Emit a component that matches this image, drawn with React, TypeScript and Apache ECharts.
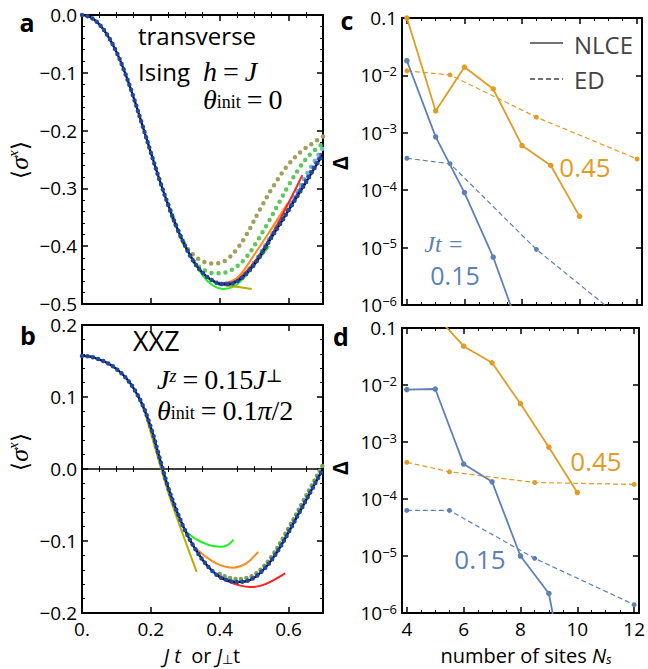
import React, { useEffect, useRef } from 'react';
import * as echarts from 'echarts';

// ---------- Panel a: transverse Ising ----------
const aMainX = [0, 0.025, 0.05, 0.075, 0.1, 0.125, 0.15, 0.175, 0.2, 0.225, 0.25, 0.275, 0.3, 0.325, 0.35, 0.375, 0.4, 0.425, 0.45, 0.475, 0.5, 0.525, 0.55, 0.575, 0.6, 0.625, 0.65, 0.675, 0.7];
const aMainY = [0, -0.004, -0.016, -0.036, -0.064, -0.1, -0.143, -0.19, -0.238, -0.285, -0.328, -0.367, -0.4, -0.427, -0.446, -0.458, -0.465, -0.466, -0.461, -0.449, -0.432, -0.41, -0.385, -0.362, -0.338, -0.314, -0.29, -0.265, -0.241];
const aOliveDotX = [0.25, 0.275, 0.3, 0.325, 0.35, 0.375, 0.4, 0.425, 0.45, 0.478, 0.517, 0.556, 0.595, 0.633, 0.672, 0.7];
const aOliveDotY = [-0.328, -0.367, -0.398, -0.416, -0.426, -0.43, -0.429, -0.421, -0.405, -0.38, -0.336, -0.296, -0.262, -0.238, -0.221, -0.21];
const aGreenDotX = [0.25, 0.275, 0.3, 0.33, 0.36, 0.39, 0.42, 0.45, 0.48, 0.51, 0.54, 0.57, 0.6, 0.63, 0.66, 0.7];
const aGreenDotY = [-0.328, -0.367, -0.4, -0.43, -0.443, -0.447, -0.445, -0.435, -0.417, -0.39, -0.36, -0.327, -0.295, -0.266, -0.243, -0.222];
const aCyanDotX = [0.4, 0.45, 0.5, 0.556, 0.604, 0.653, 0.7];
const aCyanDotY = [-0.465, -0.459, -0.428, -0.375, -0.327, -0.275, -0.229];
const aPurpleDotX = [0.4, 0.45, 0.5, 0.55, 0.6, 0.65, 0.7];
const aPurpleDotY = [-0.465, -0.46, -0.431, -0.384, -0.336, -0.285, -0.235];
const aOrangeX = [0.3, 0.35, 0.4, 0.45, 0.5, 0.55, 0.598];
const aOrangeY = [-0.4, -0.446, -0.464, -0.455, -0.415, -0.37, -0.325];
const aGreenX = [0.3, 0.35, 0.38, 0.41, 0.44, 0.47, 0.5, 0.544];
const aGreenY = [-0.4, -0.45, -0.468, -0.474, -0.47, -0.455, -0.433, -0.4];
const aOliveX = [0.35, 0.37, 0.4, 0.43, 0.46, 0.493];
const aOliveY = [-0.446, -0.457, -0.465, -0.469, -0.471, -0.474];
const aRedX = [0.45, 0.5, 0.55, 0.6, 0.64];
const aRedY = [-0.46, -0.428, -0.381, -0.325, -0.277];

// ---------- Panel b: XXZ ----------
const bMainX = [0, 0.025, 0.05, 0.075, 0.1, 0.125, 0.15, 0.175, 0.2, 0.225, 0.25, 0.275, 0.3, 0.325, 0.35, 0.375, 0.4, 0.425, 0.45, 0.475, 0.5, 0.525, 0.55, 0.575, 0.6, 0.625, 0.65, 0.675, 0.7];
const bMainY = [0.157, 0.156, 0.152, 0.147, 0.139, 0.128, 0.112, 0.09, 0.058, 0.016, -0.025, -0.058, -0.086, -0.108, -0.126, -0.14, -0.15, -0.155, -0.157, -0.156, -0.151, -0.141, -0.127, -0.109, -0.088, -0.066, -0.044, -0.022, 0.0];
const bYellowX = [0.16, 0.18, 0.2, 0.25, 0.3, 0.333];
const bYellowY = [0.103, 0.082, 0.05, -0.032, -0.1, -0.143];
const bGreenX = [0.3, 0.33, 0.36, 0.38, 0.406, 0.425, 0.44];
const bGreenY = [-0.086, -0.097, -0.104, -0.107, -0.108, -0.105, -0.098];
const bOrangeX = [0.33, 0.36, 0.39, 0.42, 0.44, 0.47, 0.49, 0.512];
const bOrangeY = [-0.11, -0.122, -0.131, -0.136, -0.137, -0.133, -0.126, -0.115];
const bRedX = [0.4, 0.43, 0.46, 0.488, 0.52, 0.55, 0.59];
const bRedY = [-0.15, -0.157, -0.162, -0.164, -0.162, -0.156, -0.145];
const bOliveDotX = [0.4, 0.45, 0.5, 0.55, 0.6, 0.65, 0.7];
const bOliveDotY = [-0.146, -0.153, -0.147, -0.122, -0.082, -0.038, 0.006];

// ---------- Panels c, d: error vs number of sites ----------
const nlceX = [4, 5, 6, 7, 8, 9, 10];
const edX = [4, 5.5, 8.5, 12];
const cNlce045 = [0.1, 2.4e-3, 1.4e-2, 5.8e-3, 6.0e-4, 2.7e-4, 3.5e-5];
const cNlce015 = [1.8e-2, 8.5e-4, 9.1e-5, 6.8e-6, 2.8e-7];
const cEd045 = [1.2e-2, 1.02e-2, 1.87e-3, 3.5e-4];
const cEd015 = [3.6e-4, 2.9e-4, 9.3e-6, 3.5e-7];
const dNlce045X = [5, 6, 7, 8, 9, 10];
const dNlce045 = [0.17, 4.8e-2, 2.45e-2, 4.7e-3, 8.1e-4, 1.3e-4];
const dNlce015 = [8.3e-3, 8.5e-3, 4.1e-4, 2.0e-4, 1.0e-5, 2.2e-6, 5e-9];
const dEd045 = [4.4e-4, 3.0e-4, 1.95e-4, 1.8e-4];
const dEd015 = [6.3e-5, 6.3e-5, 9.1e-6, 1.4e-6];

const sitesMajorTicks = [4, 6, 8, 10, 12];
const sitesMinorTicks = [4.5, 5, 5.5, 6.5, 7, 7.5, 8.5, 9, 9.5, 10.5, 11, 11.5];
const timeMinorTicks = [0.05, 0.1, 0.15, 0.25, 0.3, 0.35, 0.45, 0.5, 0.55, 0.65];

const BLUE = '#5E81B5';
const ORANGE = '#E19C24';
const FONT = '"Open Sans", "Noto Sans", sans-serif';
const SERIF = '"Liberation Serif", "DejaVu Serif", serif';

const pairs = (xs: number[], ys: number[]) => ys.map((y, i) => [xs[i], y]);

function lineSeries(xs: number[], ys: number[], xi: number, yi: number, color: string, width: number, extra: any = {}) {
  return {
    type: 'line', xAxisIndex: xi, yAxisIndex: yi, data: pairs(xs, ys),
    showSymbol: false, symbol: 'none', smooth: 0.35, clip: true,
    lineStyle: { color, width, ...(extra.lineStyle || {}) },
    silent: true, z: extra.z || 2,
  };
}
function dotSeries(xs: number[], ys: number[], xi: number, yi: number, color: string, gap = 7, width = 4.5) {
  return lineSeries(xs, ys, xi, yi, color, width, { lineStyle: { type: [0, gap], cap: 'round' } });
}
function logSeries(xs: number[], ys: number[], xi: number, yi: number, color: string, dashed: boolean) {
  return {
    type: 'line', xAxisIndex: xi, yAxisIndex: yi, data: pairs(xs, ys), clip: true,
    symbol: 'circle', symbolSize: dashed ? 5 : 5.5, showSymbol: true,
    itemStyle: { color },
    lineStyle: { color, width: dashed ? 1.2 : 1.8, type: dashed ? [5, 3] : 'solid' },
    silent: true,
  };
}

const frameLine = { show: true, onZero: false, lineStyle: { color: '#000', width: 2 } };
const labelStyle = { color: '#000', fontFamily: FONT, fontSize: 19 };

function linX(grid: number, pos: 'top' | 'bottom', labels: boolean) {
  return {
    type: 'value', gridIndex: grid, position: pos, min: 0, max: 0.7, interval: 0.2,
    axisLine: frameLine, splitLine: { show: false },
    axisTick: { show: true, inside: true, length: 6, lineStyle: { color: '#000', width: 1.5 } },
    minorTick: { show: false },
    axisLabel: {
      show: labels, margin: 6, showMaxLabel: false, ...labelStyle,
      formatter: (v: number) => (v === 0 ? '0.' : v > 0.65 ? '' : v.toFixed(1)),
    },
  };
}
function minorX(grid: number, pos: 'top' | 'bottom') {
  return {
    type: 'value', gridIndex: grid, position: pos, min: 0, max: 0.7,
    axisLine: { show: false }, splitLine: { show: false },
    axisTick: { show: true, inside: true, length: 3, customValues: timeMinorTicks, lineStyle: { color: '#000', width: 1 } },
    axisLabel: { show: false },
  };
}
function linY(grid: number, pos: 'left' | 'right', labels: boolean, min: number, max: number) {
  return {
    type: 'value', gridIndex: grid, position: pos, min, max, interval: 0.1,
    axisLine: frameLine, splitLine: { show: false },
    axisTick: { show: true, inside: true, length: 6, lineStyle: { color: '#000', width: 1.5 } },
    minorTick: { show: true, splitNumber: 5, length: 3, lineStyle: { color: '#000', width: 1 } },
    axisLabel: {
      show: labels, margin: 5, ...labelStyle,
      formatter: (v: number) => (Math.abs(v) < 1e-9 ? '0.0' : (v < 0 ? '\u2212' : '') + Math.abs(v).toFixed(1)),
    },
  };
}
function sitesX(grid: number, pos: 'top' | 'bottom', labels: boolean, minor: boolean) {
  return {
    type: 'value', gridIndex: grid, position: pos, min: 3.83, max: 12.17,
    axisLine: minor ? { show: false } : frameLine, splitLine: { show: false },
    axisTick: {
      show: true, inside: true, length: minor ? 3 : 6,
      customValues: minor ? sitesMinorTicks : sitesMajorTicks,
      lineStyle: { color: '#000', width: minor ? 1 : 1.5 },
    },
    axisLabel: { show: labels && !minor, margin: 6, ...labelStyle, customValues: sitesMajorTicks },
  };
}
function logY(grid: number, pos: 'left' | 'right', labels: boolean) {
  return {
    type: 'log', logBase: 10, gridIndex: grid, position: pos, min: 1e-6, max: 0.1,
    axisLine: frameLine, splitLine: { show: false },
    axisTick: { show: true, inside: true, length: 6, lineStyle: { color: '#000', width: 1.5 } },
    minorTick: { show: false },
    axisLabel: {
      show: labels, margin: 5, ...labelStyle,
      formatter: (v: number) => {
        const e = Math.round(Math.log10(v));
        return e === -1 ? '{b|0.1}' : `{b|10}{s|\u2212${-e}}`;
      },
      rich: {
        b: { fontFamily: FONT, fontSize: 19, color: '#000' },
        s: { fontFamily: FONT, fontSize: 13, color: '#000', verticalAlign: 'top', padding: [0, 0, 9, 0] },
      },
    },
  };
}

function txt(x: number, y: number, text: string, font: string, fill = '#000', align = 'left', rich?: any, rotation = 0, lineHeight?: number) {
  return {
    type: 'text', x, y, rotation, silent: true, z: 50,
    style: { text, font, fill, align, verticalAlign: 'middle', rich, lineHeight },
  };
}

const mathRich = {
  i: { fontFamily: SERIF, fontStyle: 'italic', fontSize: 28, color: '#000', lineHeight: 20 },
  r: { fontFamily: SERIF, fontSize: 28, color: '#000', lineHeight: 20 },
  sub: { fontFamily: SERIF, fontSize: 18, color: '#000', verticalAlign: 'bottom', lineHeight: 12 },
  sup: { fontFamily: SERIF, fontStyle: 'italic', fontSize: 18, color: '#000', verticalAlign: 'top', lineHeight: 12 },
  supr: { fontFamily: SERIF, fontSize: 18, color: '#000', verticalAlign: 'top', lineHeight: 12 },
};
const sigmaRich = {
  n: { fontFamily: FONT, fontSize: 23, color: '#000' },
  i: { fontFamily: SERIF, fontStyle: 'italic', fontSize: 26, color: '#000' },
  sup: { fontFamily: SERIF, fontStyle: 'italic', fontSize: 15, color: '#000', verticalAlign: 'top', padding: [0, 0, 12, 0] },
};
const xTitleRich = {
  i: { fontFamily: FONT, fontStyle: 'italic', fontSize: 20, color: '#000' },
  n: { fontFamily: FONT, fontSize: 20, color: '#000' },
  sub: { fontFamily: FONT, fontSize: 13, color: '#000', verticalAlign: 'bottom', padding: [4, 0, 0, 0] },
  subi: { fontFamily: FONT, fontStyle: 'italic', fontSize: 13, color: '#000', verticalAlign: 'bottom', padding: [4, 0, 0, 0] },
};

export default function App() {
  const ref = useRef<HTMLDivElement>(null);
  useEffect(() => {
    if (!ref.current) return;
    const chart = echarts.init(ref.current, null, { renderer: 'svg' });
    const option: any = {
      animation: false,
      backgroundColor: '#fff',
      grid: [
        { left: 82, top: 15, width: 241, height: 289 },
        { left: 82, top: 325, width: 241, height: 288 },
        { left: 402, top: 18, width: 240, height: 287 },
        { left: 402, top: 328, width: 240, height: 285 },
      ],
      xAxis: [
        linX(0, 'bottom', false), linX(0, 'top', false),
        linX(1, 'bottom', true), linX(1, 'top', false),
        sitesX(2, 'bottom', false, false), sitesX(2, 'top', false, false),
        sitesX(2, 'bottom', false, true), sitesX(2, 'top', false, true),
        sitesX(3, 'bottom', true, false), sitesX(3, 'top', false, false),
        sitesX(3, 'bottom', false, true), sitesX(3, 'top', false, true),
        minorX(0, 'bottom'), minorX(0, 'top'), minorX(1, 'bottom'), minorX(1, 'top'),
      ],
      yAxis: [
        linY(0, 'left', true, -0.5, 0), linY(0, 'right', false, -0.5, 0),
        linY(1, 'left', true, -0.2, 0.2), linY(1, 'right', false, -0.2, 0.2),
        logY(2, 'left', true), logY(2, 'right', false),
        logY(3, 'left', true), logY(3, 'right', false),
      ],
      series: [
        // panel a
        dotSeries(aOliveDotX, aOliveDotY, 0, 0, '#A39E5E'),
        dotSeries(aGreenDotX, aGreenDotY, 0, 0, '#5CC85C'),
        dotSeries(aCyanDotX, aCyanDotY, 0, 0, '#5BC3C8'),
        lineSeries(aOrangeX, aOrangeY, 0, 0, '#FF8C1A', 2),
        lineSeries(aGreenX, aGreenY, 0, 0, '#22EE22', 2),
        lineSeries(aOliveX, aOliveY, 0, 0, '#B5B000', 2),
        lineSeries(aRedX, aRedY, 0, 0, '#FF2020', 2),
        dotSeries(aPurpleDotX, aPurpleDotY, 0, 0, '#7A3CC8', 5, 3.5),
        lineSeries(aMainX, aMainY, 0, 0, '#000', 2.2),
        dotSeries(aMainX, aMainY, 0, 0, '#1C49A6', 5.5, 4.5),
        // panel b
        lineSeries([0, 0.7], [0, 0], 2, 2, '#000', 1.3),
        dotSeries(bOliveDotX, bOliveDotY, 2, 2, '#7FA05A', 5.5, 4.5),
        lineSeries(bYellowX, bYellowY, 2, 2, '#B5B000', 2),
        lineSeries(bGreenX, bGreenY, 2, 2, '#22EE22', 2),
        lineSeries(bOrangeX, bOrangeY, 2, 2, '#FF8C1A', 2),
        lineSeries(bRedX, bRedY, 2, 2, '#FF2020', 2),
        lineSeries(bMainX, bMainY, 2, 2, '#000', 2.2),
        dotSeries(bMainX, bMainY, 2, 2, '#1C49A6', 5.5, 4.5),
        // panel c
        logSeries(nlceX, cNlce045, 4, 4, ORANGE, false),
        logSeries(edX, cEd045, 4, 4, ORANGE, true),
        logSeries(nlceX.slice(0, cNlce015.length), cNlce015, 4, 4, BLUE, false),
        logSeries(edX, cEd015, 4, 4, BLUE, true),
        // panel d
        logSeries(dNlce045X, dNlce045, 8, 6, ORANGE, false),
        logSeries(edX, dEd045, 8, 6, ORANGE, true),
        logSeries(nlceX, dNlce015, 8, 6, BLUE, false),
        logSeries(edX, dEd015, 8, 6, BLUE, true),
      ],
      graphic: {
        elements: [
          txt(27, 22, 'a', `bold 25px ${FONT}`, '#000', 'center'),
          txt(28, 335, 'b', `bold 25px ${FONT}`, '#000', 'center'),
          txt(347, 20, 'c', `bold 25px ${FONT}`, '#000', 'center'),
          txt(341, 336, 'd', `bold 25px ${FONT}`, '#000', 'center'),
          txt(138, 35, 'transverse', `24px ${FONT}`),
          txt(138, 71, 'Ising', `24px ${FONT}`),
          txt(203, 71, '{i|h} {r|=} {i|J}', `24px ${SERIF}`, '#000', 'left', mathRich),
          txt(203, 99, '{i|θ}{sub|init} {r|=} {r|0}', `24px ${SERIF}`, '#000', 'left', mathRich),
          txt(133, 340, 'XXZ', `27px ${FONT}`),
          txt(157, 379, '{i|J}{sup|z} {r|=} {r|0.15}{i|J}{supr|⊥}', `24px ${SERIF}`, '#000', 'left', mathRich),
          txt(157, 410, '{i|θ}{sub|init} {r|=} {r|0.1}{i|π}{r|/2}', `24px ${SERIF}`, '#000', 'left', mathRich),
          txt(19, 160, '{n|⟨}{i|σ}{sup|x}{n|⟩}', `20px ${FONT}`, '#000', 'center', sigmaRich, Math.PI / 2),
          txt(19, 452, '{n|⟨}{i|σ}{sup|x}{n|⟩}', `20px ${FONT}`, '#000', 'center', sigmaRich, Math.PI / 2),
          txt(340, 163, 'Δ', `bold 21px ${FONT}`, '#000', 'center', undefined, Math.PI / 2),
          txt(340, 468, 'Δ', `bold 21px ${FONT}`, '#000', 'center', undefined, Math.PI / 2),
          txt(202, 655, '{i|J t}{n|  or }{i|J}{sub|⊥}{n|t}', `20px ${FONT}`, '#000', 'center', xTitleRich),
          txt(526, 655, '{n|number of sites }{i|N}{subi|s}', `19px ${FONT}`, '#000', 'center', xTitleRich),
          { type: 'line', silent: true, shape: { x1: 530, y1: 43, x2: 563, y2: 43 }, style: { stroke: '#444', lineWidth: 1.5 } },
          { type: 'line', silent: true, shape: { x1: 530, y1: 79, x2: 563, y2: 79 }, style: { stroke: '#444', lineWidth: 1.5, lineDash: [5, 3] } },
          txt(574, 44, 'NLCE', `24px ${FONT}`, '#444'),
          txt(574, 79, 'ED', `24px ${FONT}`, '#444'),
          txt(585, 167, '0.45', `26px ${FONT}`, ORANGE, 'center'),
          txt(596, 461, '0.45', `26px ${FONT}`, ORANGE, 'center'),
          txt(444, 244, 'Jt =', `italic 24px ${SERIF}`, BLUE, 'center', undefined, 0, 18),
          txt(455, 275, '0.15', `25px ${FONT}`, BLUE, 'center', undefined, 0, 20),
          txt(480, 559, '0.15', `26px ${FONT}`, BLUE, 'center'),
        ],
      },
    };
    chart.setOption(option);
    return () => chart.dispose();
  }, []);
  return <div ref={ref} style={{ position: 'fixed', left: 0, top: 0, width: 648, height: 669, background: '#fff' }} />;
}
